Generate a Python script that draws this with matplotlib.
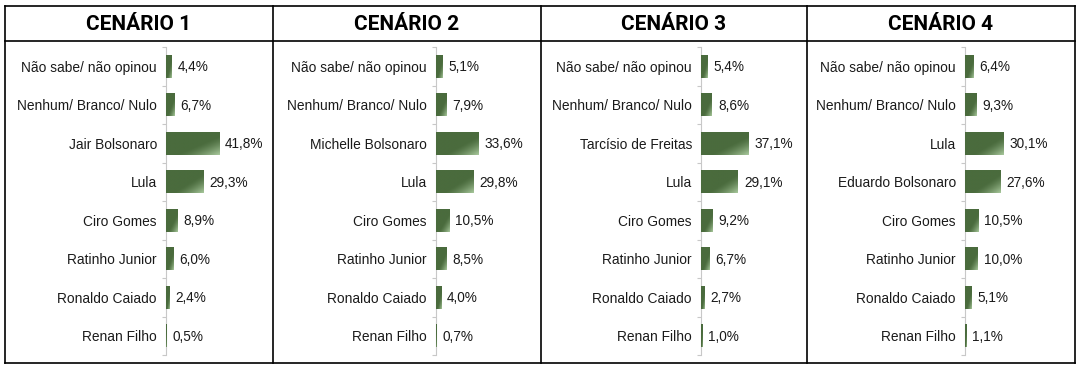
import numpy as np
import matplotlib.pyplot as plt
from matplotlib.lines import Line2D

plt.rcParams['font.family'] = ['Liberation Sans', 'DejaVu Sans']

titulos = ['CENÁRIO 1', 'CENÁRIO 2', 'CENÁRIO 3', 'CENÁRIO 4']

cen1_nomes = ['Não sabe/ não opinou', 'Nenhum/ Branco/ Nulo', 'Jair Bolsonaro', 'Lula',
              'Ciro Gomes', 'Ratinho Junior', 'Ronaldo Caiado', 'Renan Filho']
cen1_valores = [4.4, 6.7, 41.8, 29.3, 8.9, 6.0, 2.4, 0.5]

cen2_nomes = ['Não sabe/ não opinou', 'Nenhum/ Branco/ Nulo', 'Michelle Bolsonaro', 'Lula',
              'Ciro Gomes', 'Ratinho Junior', 'Ronaldo Caiado', 'Renan Filho']
cen2_valores = [5.1, 7.9, 33.6, 29.8, 10.5, 8.5, 4.0, 0.7]

cen3_nomes = ['Não sabe/ não opinou', 'Nenhum/ Branco/ Nulo', 'Tarcísio de Freitas', 'Lula',
              'Ciro Gomes', 'Ratinho Junior', 'Ronaldo Caiado', 'Renan Filho']
cen3_valores = [5.4, 8.6, 37.1, 29.1, 9.2, 6.7, 2.7, 1.0]

cen4_nomes = ['Não sabe/ não opinou', 'Nenhum/ Branco/ Nulo', 'Lula', 'Eduardo Bolsonaro',
              'Ciro Gomes', 'Ratinho Junior', 'Ronaldo Caiado', 'Renan Filho']
cen4_valores = [6.4, 9.3, 30.1, 27.6, 10.5, 10.0, 5.1, 1.1]

cenarios = [(cen1_nomes, cen1_valores), (cen2_nomes, cen2_valores),
            (cen3_nomes, cen3_valores), (cen4_nomes, cen4_valores)]

W, H = 1081, 370
fig = plt.figure(figsize=(W / 100, H / 100), dpi=100)
fig.patch.set_facecolor('white')

# posições em pixels (medidas na imagem de referência)
bordas_x = [5, 273, 541, 807, 1075]
topo, linha_cab, base = 6, 41, 363
eixo_x = [166, 436, 701, 965]
eixo_topo, eixo_base = 47, 355
px_por_pct = 1.27

escuro = np.array([0x4a, 0x6b, 0x3d]) / 255
claro = np.array([0xa8, 0xc8, 0x9c]) / 255

# gradiente diagonal (clareia no canto inferior direito)
gx, gy = np.meshgrid(np.linspace(0, 1, 60), np.linspace(0, 1, 30))
t = np.clip(((gx + gy) / 2 - 0.6) / 0.4, 0, 1) ** 1.4
grad = escuro[None, None, :] * (1 - t[..., None]) + claro[None, None, :] * t[..., None]

for i, (nomes, valores) in enumerate(cenarios):
    esq = eixo_x[i]
    larg = bordas_x[i + 1] - esq - 12
    ax = fig.add_axes([esq / W, 1 - eixo_base / H, larg / W, (eixo_base - eixo_topo) / H])
    ax.set_facecolor('none')
    y = np.arange(len(nomes))
    barras = ax.barh(y, valores, height=0.6, color=escuro, linewidth=0)
    for b, v in zip(barras, valores):
        x0, y0 = b.get_x(), b.get_y()
        im = ax.imshow(grad, extent=(x0, x0 + b.get_width(), y0 + b.get_height(), y0),
                       aspect='auto', interpolation='bilinear', zorder=3)
        im.set_clip_path(b)
        ax.text(v + 6 / px_por_pct, b.get_y() + b.get_height() / 2 + 0.03,
                f'{v:.1f}%'.replace('.', ','),
                va='center', ha='left', fontsize=9.8, color='#1a1a1a')
    ax.set_xlim(0, larg / px_por_pct)
    ax.set_ylim(len(nomes) - 0.5, -0.5)
    for s in ['top', 'right', 'bottom']:
        ax.spines[s].set_visible(False)
    ax.spines['left'].set_color('#c8c8c8')
    ax.spines['left'].set_linewidth(0.8)
    ax.set_xticks([])
    ax.set_yticks(np.arange(len(nomes) + 1) - 0.5)
    ax.set_yticklabels([])
    ax.tick_params(axis='y', which='major', length=3, color='#c8c8c8', width=0.8)
    ax.set_yticks(y, minor=True)
    ax.set_yticklabels(nomes, minor=True, fontsize=9.9, color='#1a1a1a')
    ax.tick_params(axis='y', which='minor', length=0, pad=6.5)

    cx = (bordas_x[i] + bordas_x[i + 1]) / 2
    fig.text(cx / W, 1 - 24 / H, titulos[i], ha='center', va='center',
             fontsize=15, fontweight='bold', family=['Roboto', 'DejaVu Sans'], color='black')

# moldura da tabela
def linha(x1, y1, x2, y2):
    fig.add_artist(Line2D([x1 / W, x2 / W], [1 - y1 / H, 1 - y2 / H],
                          color='black', linewidth=1.2, transform=fig.transFigure))

linha(bordas_x[0], topo, bordas_x[-1], topo)
linha(bordas_x[0], base, bordas_x[-1], base)
linha(bordas_x[0], linha_cab, bordas_x[-1], linha_cab)
for bx in bordas_x:
    linha(bx, topo, bx, base)

fig.savefig('out.png', dpi=100)
